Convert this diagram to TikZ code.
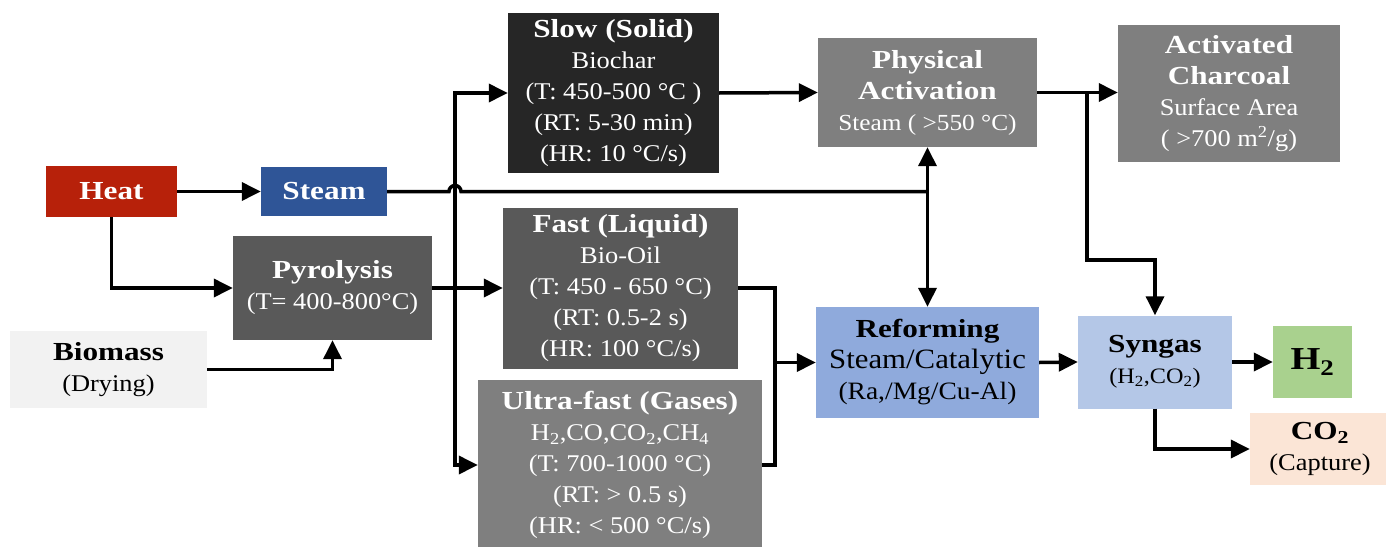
\documentclass[tikz,border=0pt]{standalone}
\usepackage{fontspec}
\setmainfont{Liberation Serif}[FakeStretch=1.1, BoldFeatures={FakeStretch=1.2}]
\usepackage{xcolor}
\usetikzlibrary{arrows.meta}

\definecolor{heatred}{RGB}{183,33,10}
\definecolor{steamblue}{RGB}{47,85,151}
\definecolor{darkgrey}{RGB}{89,89,89}
\definecolor{blackgrey}{RGB}{38,38,38}
\definecolor{midgrey}{RGB}{127,127,127}
\definecolor{lightgrey}{RGB}{242,242,242}
\definecolor{reformblue}{RGB}{143,170,220}
\definecolor{syngasblue}{RGB}{180,199,231}
\definecolor{hydrogengreen}{RGB}{169,209,142}
\definecolor{captureorange}{RGB}{251,229,214}

\tikzset{
    box/.style={rectangle, inner sep=0pt, align=center, font=\fontsize{24}{31}\selectfont},
    flow/.style={line width=3.5pt, -{Triangle[length=19pt, width=18pt]}},
    pipe/.style={line width=3.5pt},
}
\newcommand{\ttl}[1]{{\fontsize{26}{31}\selectfont\bfseries #1}}
\newcommand{\sz}[2]{{\fontsize{#1}{31}\selectfont #2}}

\begin{document}
\begin{tikzpicture}[x=1pt, y=-1pt]
    \clip (0,0) rectangle (1386,546);

    \node[box, fill=heatred, text=white, minimum width=131pt, minimum height=51pt] (heat) at (111.5,191.5) {\ttl{Heat}};
    \node[box, fill=steamblue, text=white, minimum width=126pt, minimum height=49pt] (steam) at (324,191.5) {\ttl{Steam}};
    \node[box, fill=darkgrey, text=white, minimum width=199pt, minimum height=104pt] (pyro) at (332.5,288) {\ttl{Pyrolysis}\\(T= 400-800°C)};
    \node[box, fill=lightgrey, minimum width=197pt, minimum height=77pt] (biomass) at (108.5,369.5) {\ttl{Biomass}\\(Drying)};

    \node[box, fill=blackgrey, text=white, minimum width=211pt, minimum height=160pt] (slow) at (613.5,93) {\ttl{Slow (Solid)}\\Biochar\\(T: 450-500 °C )\\(RT: 5-30 min)\\(HR: 10 °C/s)};
    \node[box, fill=darkgrey, text=white, minimum width=235pt, minimum height=161pt] (fast) at (620.5,288) {\ttl{Fast (Liquid)}\\Bio-Oil\\(T: 450 - 650 °C)\\(RT: 0.5-2 s)\\(HR: 100 °C/s)};
    \node[box, fill=midgrey, text=white, minimum width=284pt, minimum height=170pt] (ultra) at (620,465) {\ttl{Ultra-fast (Gases)}\\H\textsubscript{2},CO,CO\textsubscript{2},CH\textsubscript{4}\\(T: 700-1000 °C)\\(RT: > 0.5 s)\\(HR: < 500 °C/s)};

    \node[box, fill=midgrey, text=white, minimum width=219pt, minimum height=109pt] (phys) at (927.5,92.5) {\ttl{Physical}\\\ttl{Activation}\\\sz{23}{Steam ( >550 °C)}};
    \node[box, fill=midgrey, text=white, minimum width=222pt, minimum height=137pt] (char) at (1229,93.5) {\ttl{Activated}\\\ttl{Charcoal}\\Surface Area\\( >700 m\textsuperscript{2}/g)};

    \node[box, fill=reformblue, minimum width=223pt, minimum height=111pt] (reform) at (927.5,362.5) {\ttl{Reforming}\\\sz{28}{Steam/Catalytic}\\\sz{25}{(Ra,/Mg/Cu-Al)}};
    \node[box, fill=syngasblue, minimum width=154pt, minimum height=93pt] (syngas) at (1155,362) {\ttl{Syngas}\\\sz{22}{(H\textsubscript{2},CO\textsubscript{2})}};
    \node[box, fill=hydrogengreen, minimum width=79pt, minimum height=72pt] (h2) at (1312.5,362) {\sz{32}{\bfseries H\textsubscript{2}}};
    \node[box, fill=captureorange, minimum width=140pt, minimum height=72pt] (co2) at (1320,449) {\ttl{CO\textsubscript{2}}\\(Capture)};

    \coordinate (split) at (455,288);
    \coordinate (stj) at (phys.south |- steam.east);
    \coordinate (merge) at (775,362.5);
    \coordinate (fork) at (1087,92.5);
    \coordinate (bend) at (1087,260);

    \draw[flow] (heat.east) -- (steam.west);
    \draw[flow] (heat.south) |- (pyro.west);
    \draw[flow] (biomass.east) -| (pyro.south);

    \draw[flow] (pyro.east) -- (fast.west);
    \draw[flow] (split) |- (slow.west);
    \draw[flow] (split) |- (ultra.west);

    \draw[pipe] (steam.east) -- (449,191.5) arc[start angle=180, end angle=360, radius=6] -- (stj);
    \draw[flow] (stj) -- (phys.south);
    \draw[flow] (stj) -- (reform.north);

    \draw[flow] (slow.east) -- (phys.west);
    \draw[flow] (phys.east) -- (phys.east -| char.west);
    \draw[flow] (fork) -- (bend) -| (syngas.north);

    \draw[pipe] (fast.east) -| (merge);
    \draw[pipe] (ultra.east) -| (merge);
    \draw[flow] (merge) -- (reform.west);

    \draw[flow] (reform.east) -- (syngas.west);
    \draw[flow] (syngas.east) -- (h2.west);
    \draw[flow] (syngas.south) |- (co2.west);
\end{tikzpicture}
\end{document}
